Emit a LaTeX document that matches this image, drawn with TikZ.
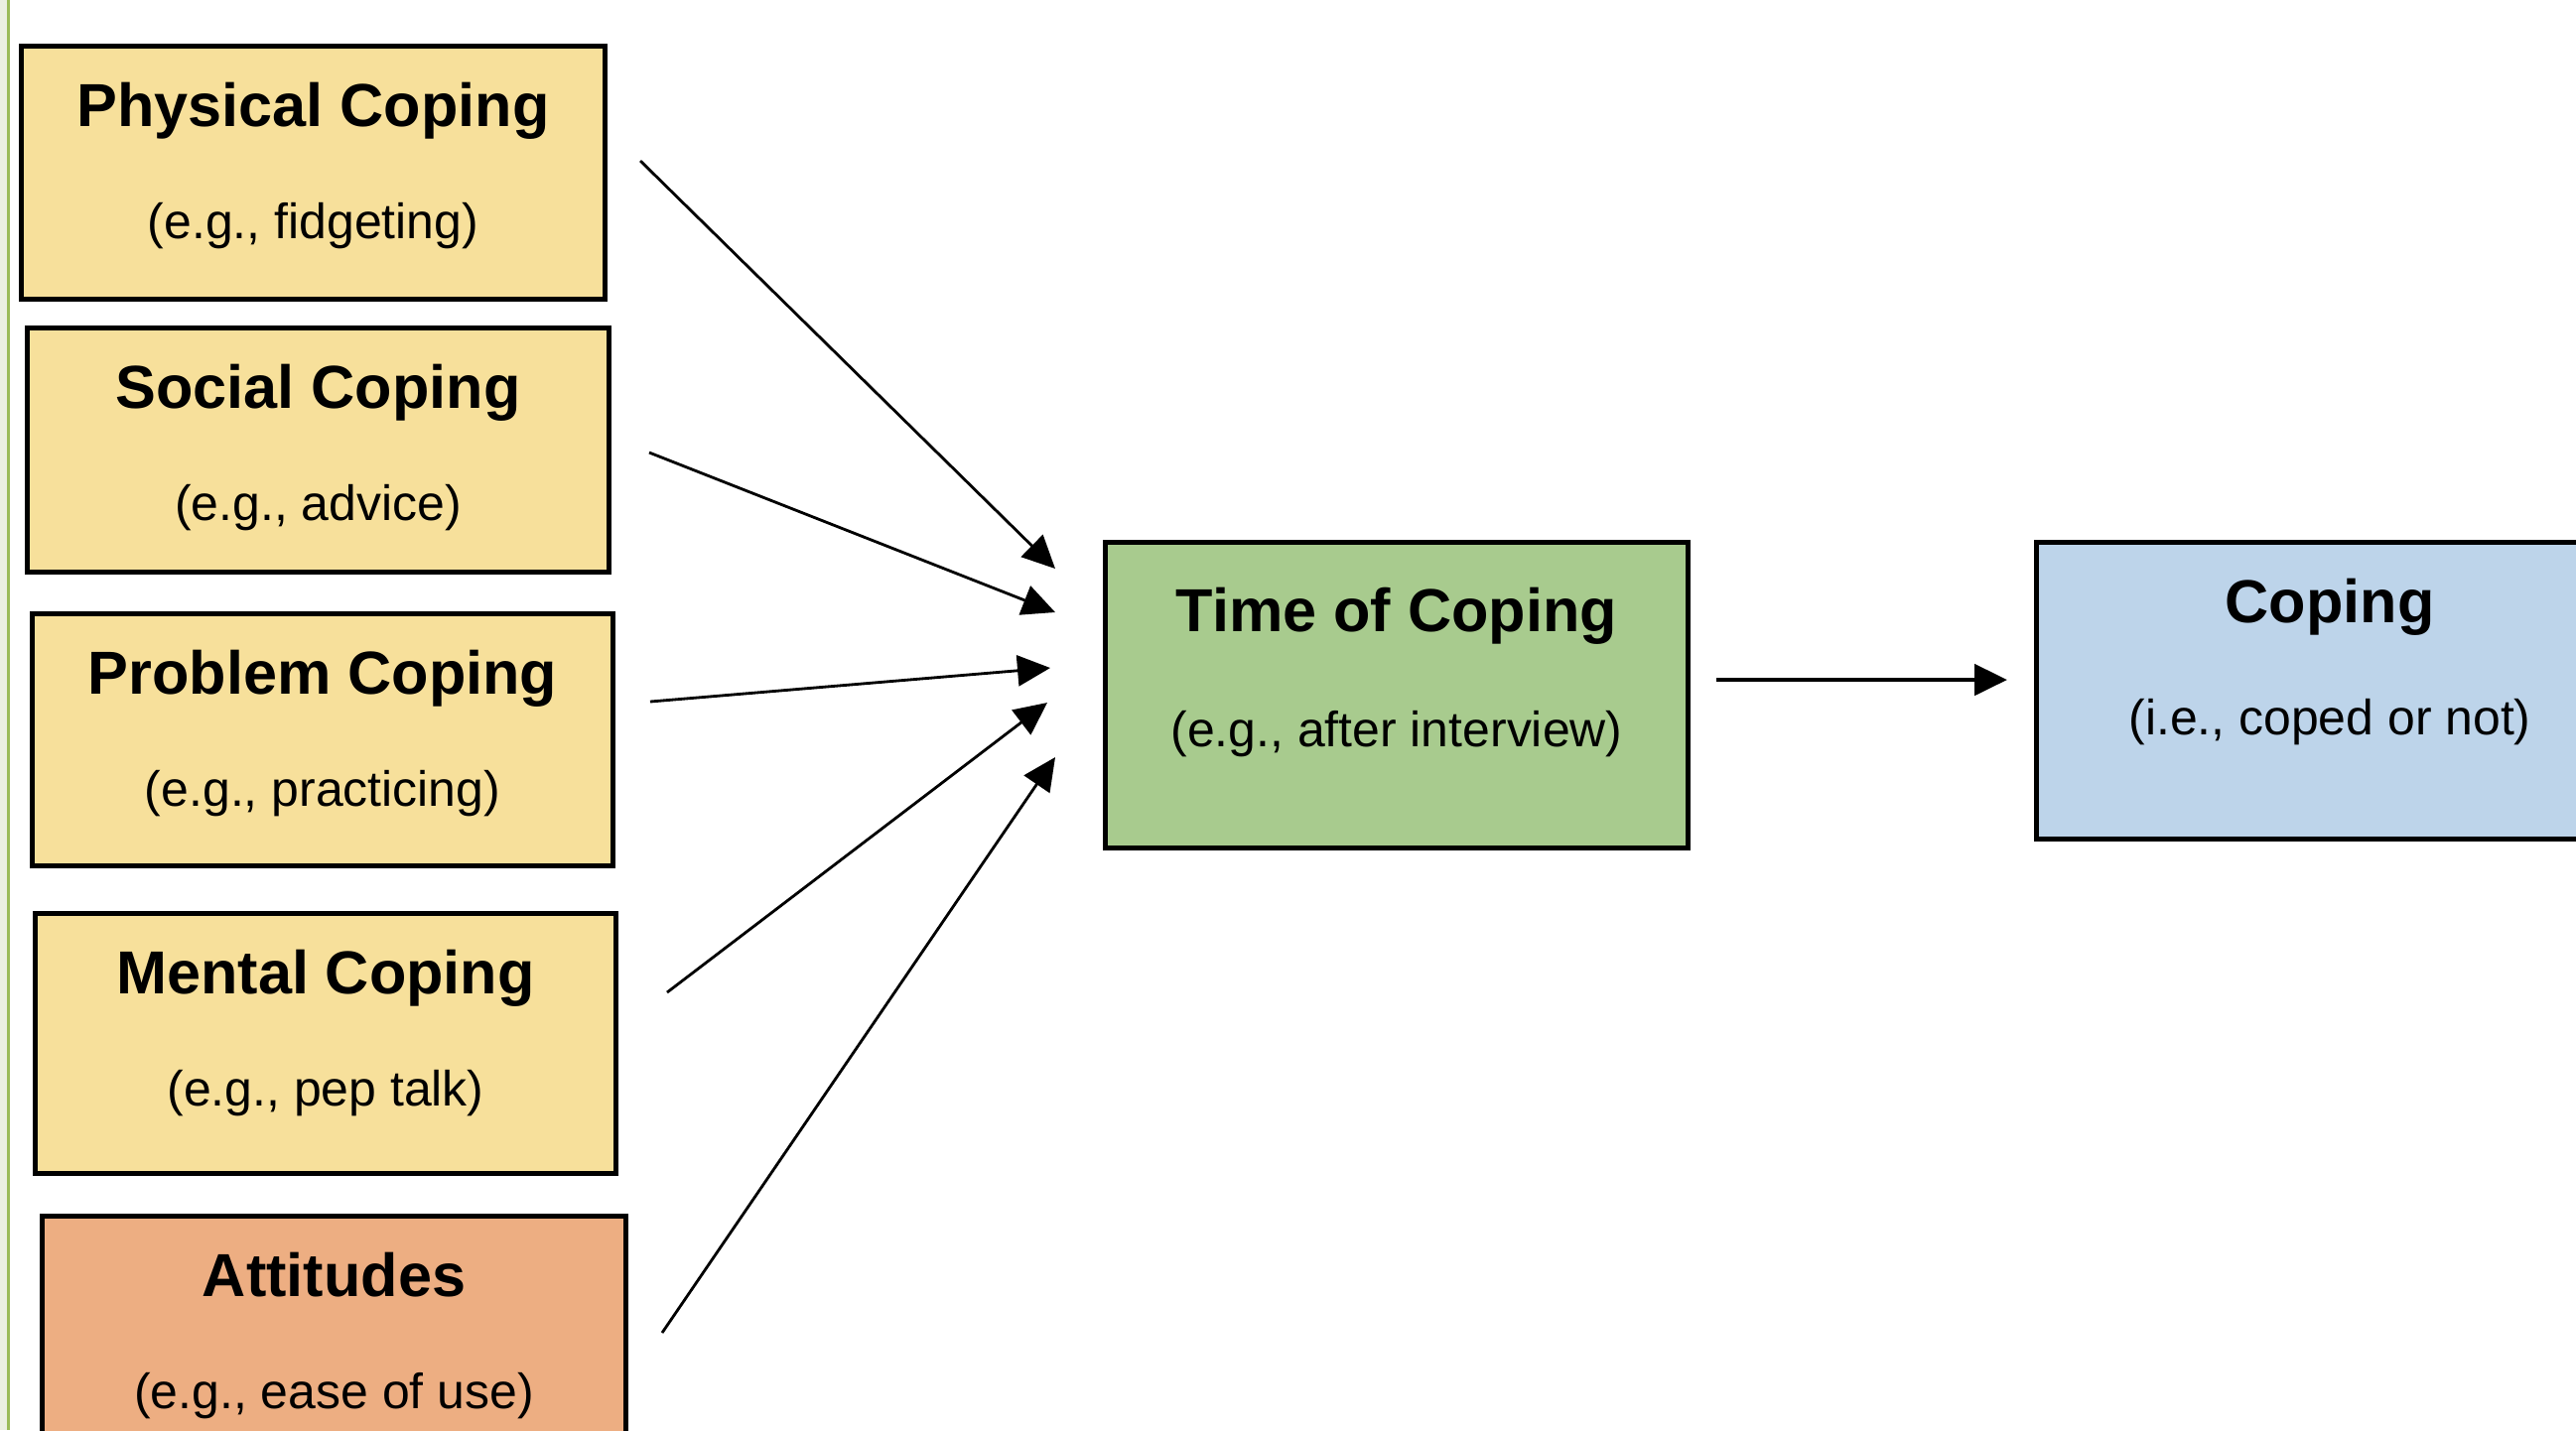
\documentclass[tikz,border=0pt]{standalone}
\usepackage{fontspec}
\setmainfont{Liberation Sans}
\usetikzlibrary{arrows.meta}

\definecolor{copeyellow}{RGB}{247,224,155}
\definecolor{attorange}{RGB}{237,174,130}
\definecolor{timegreen}{RGB}{168,203,142}
\definecolor{outblue}{RGB}{189,212,234}
\definecolor{panegreen}{RGB}{236,240,226}
\definecolor{ruleolive}{RGB}{155,187,89}

\tikzset{
  factor/.style={draw=black, line width=1.42pt, inner sep=0pt, minimum width=5.86cm},
  heading/.style={font=\fontsize{17.4pt}{20pt}\selectfont\bfseries, inner sep=0pt, text height=13pt, text depth=3.7pt},
  example/.style={font=\fontsize{14.2pt}{17pt}\selectfont, inner sep=0pt, text height=10.6pt, text depth=3pt},
  link/.style={-{Triangle[length=0.33cm, width=0.31cm]}, line width=0.8pt},
}

\begin{document}
\begin{tikzpicture}[x=0.01cm, y=-0.01cm]
    \path[use as bounding box, clip] (0,0) rectangle (2595,1441);

    % Thin pane border on the far left
    \fill[panegreen] (0,0) rectangle (7,1441);
    \fill[ruleolive] (7,0) rectangle (9.5,1441);

    % First draw all the boxes
    \node[factor, fill=copeyellow, minimum width=5.88cm, minimum height=2.55cm] (phys) at (315.5,174) {};
    \node[factor, fill=copeyellow, minimum width=5.86cm, minimum height=2.46cm] (soc) at (320.5,453.5) {};
    \node[factor, fill=copeyellow, minimum width=5.85cm, minimum height=2.54cm] (prob) at (325,745.5) {};
    \node[factor, fill=copeyellow, minimum width=5.85cm, minimum height=2.62cm] (ment) at (328,1051.5) {};
    \node[factor, fill=attorange, minimum width=5.88cm, minimum height=2.55cm] (att) at (336.5,1353) {};
    \node[factor, fill=timegreen, minimum width=5.87cm, minimum height=3.08cm] (time) at (1407,700.5) {};
    \node[factor, fill=outblue, minimum width=5.9cm, minimum height=2.99cm] (cope) at (2347,696) {};

    % Then add the text nodes near the top of each box
    \node[heading] (phys-t) at ([yshift=-0.675cm]phys.north) {Physical Coping};
    \node[example] (phys-e) at ([yshift=-1.83cm]phys.north) {(e.g., fidgeting)};
    \node[heading] (soc-t) at ([yshift=-0.675cm]soc.north) {Social Coping};
    \node[example] (soc-e) at ([yshift=-1.83cm]soc.north) {(e.g., advice)};
    \node[heading] (prob-t) at ([yshift=-0.675cm]prob.north) {Problem Coping};
    \node[example] (prob-e) at ([yshift=-1.83cm]prob.north) {(e.g., practicing)};
    \node[heading] (ment-t) at ([yshift=-0.67cm]ment.north) {Mental Coping};
    \node[example] (ment-e) at ([yshift=-1.83cm]ment.north) {(e.g., pep talk)};
    \node[heading] (att-t) at ([yshift=-0.675cm]att.north) {Attitudes};
    \node[example] (att-e) at ([yshift=-1.835cm]att.north) {(e.g., ease of use)};
    \node[heading] (time-t) at ([yshift=-0.765cm]time.north) {Time of Coping};
    \node[example] (time-e) at ([yshift=-1.955cm]time.north) {(e.g., after interview)};
    \node[heading] (cope-t) at ([yshift=-0.675cm]cope.north) {Coping};
    \node[example] (cope-e) at ([yshift=-1.835cm]cope.north) {(i.e., coped or not)};

    % Loose ends of the arrows (they stop short of the boxes)
    \coordinate (phys-out) at (645,162);
    \coordinate (soc-out) at (654,456);
    \coordinate (prob-out) at (655,707);
    \coordinate (ment-out) at (672,1000);
    \coordinate (att-out) at (667,1343);
    \coordinate (time-in1) at (1063,573);
    \coordinate (time-in2) at (1063,617);
    \coordinate (time-in3) at (1058,673);
    \coordinate (time-in4) at (1055,708);
    \coordinate (time-in5) at (1063,763);
    \coordinate (time-out) at (1729,685);
    \coordinate (cope-in) at (2022,685);

    \draw[link] (phys-out) -- (time-in1);
    \draw[link] (soc-out) -- (time-in2);
    \draw[link] (prob-out) -- (time-in3);
    \draw[link] (ment-out) -- (time-in4);
    \draw[link] (att-out) -- (time-in5);
    \draw[link, line width=1.4pt] (time-out) -- (cope-in);
\end{tikzpicture}
\end{document}
